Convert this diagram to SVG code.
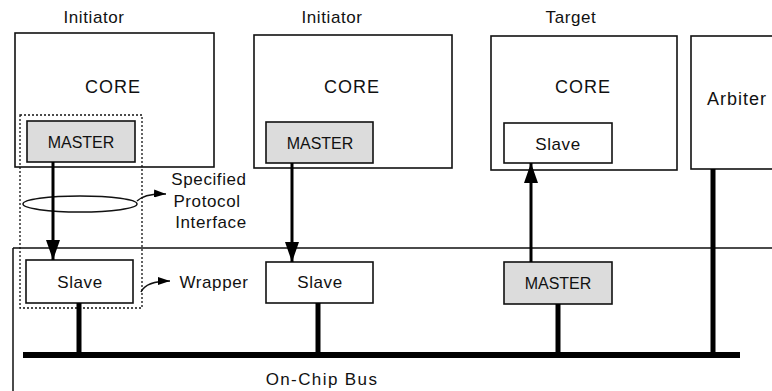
<svg xmlns="http://www.w3.org/2000/svg" width="772" height="391" viewBox="0 0 772 391">
<style>
text{font-family:"Liberation Sans",Arial,sans-serif;fill:#111}
.box{fill:#fff;stroke:#111;stroke-width:1.6}
.gray{fill:#dcdcdc;stroke:#111;stroke-width:1.6}
.lbl{font-size:17px;letter-spacing:0.6px;text-anchor:middle}
.core{font-size:18px;letter-spacing:1px;text-anchor:middle}
.in{font-size:16px;text-anchor:middle}
.arrow{stroke:#000;stroke-width:3;fill:none}
.bar{stroke:#000;stroke-width:5;fill:none}
.thin{stroke:#111;stroke-width:1.5;fill:none}
</style>
<defs>
<marker id="ah" markerUnits="userSpaceOnUse" markerWidth="20" markerHeight="14" viewBox="0 0 20 14" refX="20" refY="7" orient="auto">
<path d="M0,0 L20,7 L0,14 Z" fill="#000"/>
</marker>
<marker id="sa" markerUnits="userSpaceOnUse" markerWidth="12" markerHeight="8" viewBox="0 0 12 8" refX="12" refY="4" orient="auto">
<path d="M0,0 L12,4 L0,8 Z" fill="#000"/>
</marker>
</defs>
<rect width="772" height="391" fill="#fff"/>

<g id="wrapper-region">
<path class="thin" d="M13,248 H772 M13,248 V391"/>
</g>

<g id="core1">
<text class="lbl" x="94" y="23">Initiator</text>
<rect class="box" x="15" y="33" width="199" height="134"/>
<text class="core" x="113" y="93">CORE</text>
</g>
<g id="master1">
<rect class="gray" x="27" y="121" width="108" height="41"/>
<text class="in" x="81" y="148">MASTER</text>
</g>
<g id="wrapper">
<rect x="20" y="115" width="122" height="193" fill="none" stroke="#111" stroke-width="1.3" stroke-dasharray="2,2"/>
</g>
<g id="slave1">
<rect class="box" x="26" y="260" width="107" height="43"/>
<text class="lbl" x="80" y="288">Slave</text>
</g>

<g id="core2">
<text class="lbl" x="332" y="23">Initiator</text>
<rect class="box" x="254" y="35" width="198" height="133"/>
<text class="core" x="352" y="93">CORE</text>
</g>
<g id="master2">
<rect class="gray" x="266" y="122" width="107" height="41"/>
<text class="in" x="320" y="149">MASTER</text>
</g>
<g id="slave2">
<rect class="box" x="266" y="262" width="107" height="41"/>
<text class="lbl" x="320" y="288">Slave</text>
</g>

<g id="core3">
<text class="lbl" x="571" y="23">Target</text>
<rect class="box" x="491" y="36" width="186" height="134"/>
<text class="core" x="583" y="93">CORE</text>
</g>
<g id="slave3">
<rect class="box" x="504" y="123" width="108" height="40"/>
<text class="lbl" x="558" y="150">Slave</text>
</g>
<g id="master3">
<rect class="gray" x="504" y="262" width="108" height="42"/>
<text class="in" x="558" y="289">MASTER</text>
</g>

<g id="arbiter">
<rect class="box" x="691" y="36" width="90" height="133"/>
<text class="core" x="737" y="105">Arbiter</text>
</g>

<g id="protocol-note">
<ellipse class="thin" cx="80" cy="204" rx="57" ry="8"/>
<text class="lbl" x="209" y="185">Specified</text>
<text class="lbl" x="207" y="207">Protocol</text>
<text class="lbl" x="211" y="228">Interface</text>
</g>
<g id="wrapper-note">
<text class="lbl" x="214" y="288">Wrapper</text>
</g>
<g id="bus-label">
<text class="lbl" x="322" y="385" style="letter-spacing:1.4px">On-Chip Bus</text>
</g>

<g id="connectors">
<line class="arrow" x1="53" y1="162" x2="53" y2="260" marker-end="url(#ah)"/>
<line class="arrow" x1="292" y1="163" x2="292" y2="262" marker-end="url(#ah)"/>
<line class="arrow" x1="531" y1="262" x2="531" y2="163" marker-end="url(#ah)"/>
<line class="bar" x1="79" y1="303" x2="79" y2="355"/>
<line class="bar" x1="318" y1="303" x2="318" y2="355"/>
<line class="bar" x1="558" y1="304" x2="558" y2="355"/>
<line class="bar" x1="713" y1="169" x2="713" y2="355"/>
<line x1="23" y1="355" x2="740" y2="355" stroke="#000" stroke-width="6"/>
<path class="thin" d="M137,201 Q145,193 166,194" marker-end="url(#sa)"/>
<path class="thin" d="M141,292 Q146,281 170,281" marker-end="url(#sa)"/>
</g>
</svg>
